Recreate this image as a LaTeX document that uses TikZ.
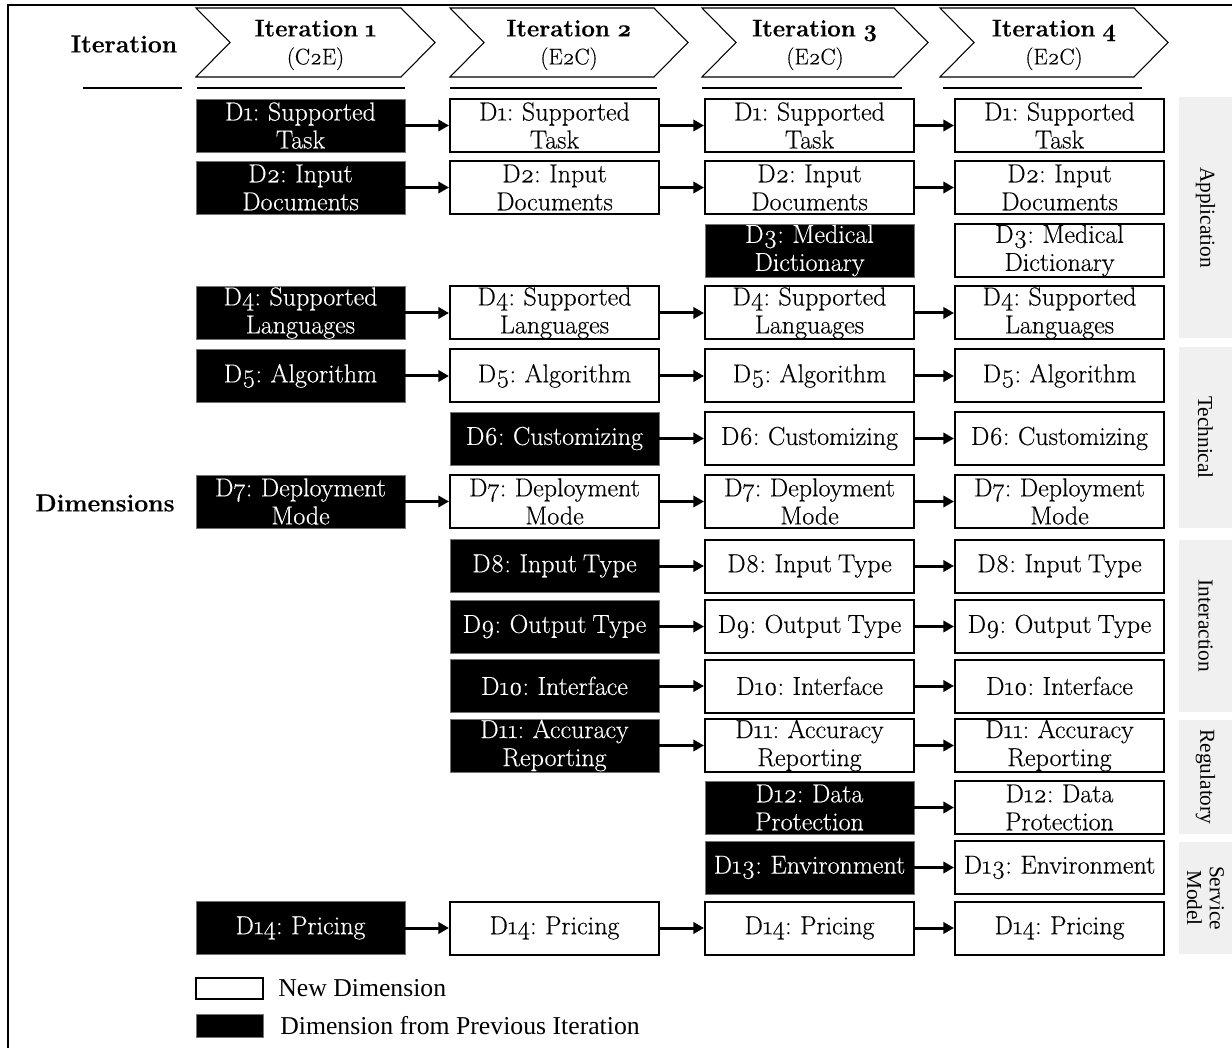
\documentclass[tikz,border=0pt]{standalone}
\usepackage{fontspec}
\setmainfont{Latin Modern Roman}[Numbers=OldStyle, FakeBold=0.35, WordSpace=0.75]
\newfontfamily\tnr{Liberation Serif}
\usetikzlibrary{arrows.meta}
\tikzset{
  dimbox/.style={minimum width=156.75pt, minimum height=39.75pt, inner sep=0pt, align=center, font=\fontsize{19.5}{21}\selectfont},
  newdim/.style={dimbox, draw=black, line width=1.5pt, fill=white, text=black},
  olddim/.style={dimbox, draw=black!55, line width=0.5pt, fill=black, text=white},
  flow/.style={line width=2.25pt, -{Triangle[length=8pt,width=8.5pt]}},
  chev/.style={draw=black, line width=0.8pt, fill=white},
  chevtext/.style={align=center, font=\fontsize{18}{21}\selectfont},
  cat/.style={fill=black!6, draw=none, inner sep=0pt, rotate=-90, align=center, font=\tnr\fontsize{16}{17}\selectfont},
  headlbl/.style={font=\fontsize{18.5}{21}\selectfont\bfseries, inner sep=0pt},
  hrule/.style={line width=1.2pt},
  legtext/.style={anchor=west, font=\tnr\fontsize{19.3}{21}\selectfont, inner sep=0pt},
}
\begin{document}
\begin{tikzpicture}[x=0.75pt,y=-0.75pt]
\useasboundingbox (0,0) rectangle (1232,1048);
% frame
\draw[line width=1.6pt] (8,1048) -- (8,5) -- (1232,5);

% header labels
\node[headlbl] (itlbl) at (124,44) {Iteration};
\node[headlbl] (dimlbl) at (105,503) {Dimensions};
\draw[hrule] (83,88) -- (182,88);

% chevrons
\draw[chev] (196,8) -- (401,8) -- (435,42.5) -- (401,77) -- (196,77) -- (230,42.5) -- cycle;
\draw[chev] (450,8) -- (654,8) -- (688,42.5) -- (654,77) -- (450,77) -- (484,42.5) -- cycle;
\draw[chev] (702,8) -- (894,8) -- (928,42.5) -- (894,77) -- (702,77) -- (736,42.5) -- cycle;
\draw[chev] (940,8) -- (1134,8) -- (1168,42.5) -- (1134,77) -- (940,77) -- (974,42.5) -- cycle;
\node[chevtext] (it1) at (315.5,45) {\textbf{Iteration 1}\\{\fontsize{17}{21}\selectfont(C2E)}};
\node[chevtext] (it2) at (569,45) {\textbf{Iteration 2}\\{\fontsize{17}{21}\selectfont(E2C)}};
\node[chevtext] (it3) at (815,45) {\textbf{Iteration 3}\\{\fontsize{17}{21}\selectfont(E2C)}};
\node[chevtext] (it4) at (1054,45) {\textbf{Iteration 4}\\{\fontsize{17}{21}\selectfont(E2C)}};
\draw[hrule] (197,88) -- (405,88);
\draw[hrule] (450,88) -- (657,88);
\draw[hrule] (702,88) -- (902,88);
\draw[hrule] (943,88) -- (1142,88);

% category panels
\node[cat, minimum width=180.75pt, minimum height=39.75pt] (capp) at (1205.5,217.5) {Application};
\node[cat, minimum width=135.75pt, minimum height=39.75pt] (ctec) at (1205.5,437.5) {Technical};
\node[cat, minimum width=129pt, minimum height=39.75pt] (cint) at (1205.5,626) {Interaction};
\node[cat, minimum width=85.5pt, minimum height=39.75pt] (creg) at (1205.5,777) {Regulatory};
\node[cat, minimum width=84pt, minimum height=39.75pt] (cser) at (1205.5,898) {Service\\Model};

% D1
\node[olddim] (d1a) at (300.5,125.5) {D1: Supported\\Task};
\node[newdim] (d1b) at (554.5,125.5) {D1: Supported\\Task};
\node[newdim] (d1c) at (809.5,125.5) {D1: Supported\\Task};
\node[newdim] (d1d) at (1059.5,125.5) {D1: Supported\\Task};
% D2
\node[olddim] (d2a) at (300.5,187.5) {D2: Input\\Documents};
\node[newdim] (d2b) at (554.5,187.5) {D2: Input\\Documents};
\node[newdim] (d2c) at (809.5,187.5) {D2: Input\\Documents};
\node[newdim] (d2d) at (1059.5,187.5) {D2: Input\\Documents};
% D3
\node[olddim] (d3c) at (809.5,250.5) {D3: Medical\\Dictionary};
\node[newdim] (d3d) at (1059.5,250.5) {D3: Medical\\Dictionary};
% D4
\node[olddim] (d4a) at (300.5,313) {D4: Supported\\Languages};
\node[newdim] (d4b) at (554.5,313) {D4: Supported\\Languages};
\node[newdim] (d4c) at (809.5,313) {D4: Supported\\Languages};
\node[newdim] (d4d) at (1059.5,313) {D4: Supported\\Languages};
% D5
\node[olddim] (d5a) at (300.5,376) {D5: Algorithm};
\node[newdim] (d5b) at (554.5,376) {D5: Algorithm};
\node[newdim] (d5c) at (809.5,376) {D5: Algorithm};
\node[newdim] (d5d) at (1059.5,376) {D5: Algorithm};
% D6
\node[olddim] (d6b) at (554.5,438.5) {D6: Customizing};
\node[newdim] (d6c) at (809.5,438.5) {D6: Customizing};
\node[newdim] (d6d) at (1059.5,438.5) {D6: Customizing};
% D7
\node[olddim] (d7a) at (300.5,501.5) {D7: Deployment\\Mode};
\node[newdim] (d7b) at (554.5,501.5) {D7: Deployment\\Mode};
\node[newdim] (d7c) at (809.5,501.5) {D7: Deployment\\Mode};
\node[newdim] (d7d) at (1059.5,501.5) {D7: Deployment\\Mode};
% D8
\node[olddim] (d8b) at (554.5,566) {D8: Input Type};
\node[newdim] (d8c) at (809.5,566) {D8: Input Type};
\node[newdim] (d8d) at (1059.5,566) {D8: Input Type};
% D9
\node[olddim] (d9b) at (554.5,626.5) {D9: Output Type};
\node[newdim] (d9c) at (809.5,626.5) {D9: Output Type};
\node[newdim] (d9d) at (1059.5,626.5) {D9: Output Type};
% D10
\node[olddim] (d10b) at (554.5,686) {D10: Interface};
\node[newdim] (d10c) at (809.5,686) {D10: Interface};
\node[newdim] (d10d) at (1059.5,686) {D10: Interface};
% D11
\node[olddim] (d11b) at (554.5,745.5) {D11: Accuracy\\Reporting};
\node[newdim] (d11c) at (809.5,745.5) {D11: Accuracy\\Reporting};
\node[newdim] (d11d) at (1059.5,745.5) {D11: Accuracy\\Reporting};
% D12
\node[olddim] (d12c) at (809.5,807.5) {D12: Data\\Protection};
\node[newdim] (d12d) at (1059.5,807.5) {D12: Data\\Protection};
% D13
\node[olddim] (d13c) at (809.5,867.5) {D13: Environment};
\node[newdim] (d13d) at (1059.5,867.5) {D13: Environment};
% D14
\node[olddim] (d14a) at (300.5,928) {D14: Pricing};
\node[newdim] (d14b) at (554.5,928) {D14: Pricing};
\node[newdim] (d14c) at (809.5,928) {D14: Pricing};
\node[newdim] (d14d) at (1059.5,928) {D14: Pricing};

% connectors
\foreach \r in {1,2,4,5,7,14} \draw[flow] (d\r a.east) -- (d\r b.west);
\foreach \r in {1,2,4,5,6,7,8,9,10,11,14} \draw[flow] (d\r b.east) -- (d\r c.west);
\foreach \r in {1,2,4,5,6,7,8,9,10,11,12,13,14} \draw[flow] (d\r c.east) -- (d\r d.west);

% legend
\node[draw=black, line width=1.2pt, fill=white, minimum width=50.25pt, minimum height=15.75pt, inner sep=0pt] (lnew) at (229.5,988.5) {};
\node[draw=black!55, line width=0.5pt, fill=black, minimum width=50.25pt, minimum height=17.25pt, inner sep=0pt] (lold) at (229.5,1025.5) {};
\node[legtext] (lnewt) at (278,988) {New Dimension};
\node[legtext] (loldt) at (280,1026) {Dimension from Previous Iteration};
\end{tikzpicture}
\end{document}
